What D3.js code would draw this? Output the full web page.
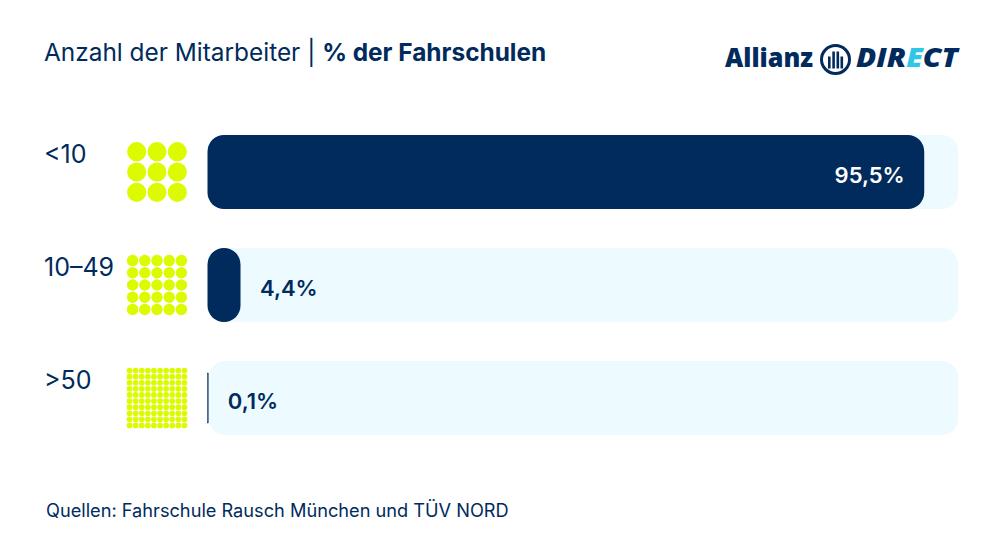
<!DOCTYPE html>
<html>
<head>
<meta charset="utf-8">
<script src="https://cdn.jsdelivr.net/npm/d3@7"></script>
<style>
  html, body { margin: 0; padding: 0; background: #fff; }
  svg { display: block; }
  text { font-family: Inter, Lato, sans-serif; }
</style>
</head>
<body>
<div id="chart"></div>
<script>
const categories = ["<10", "10–49", ">50"];
const shares = [95.5, 4.4, 0.1];
const shareLabels = ["95,5%", "4,4%", "0,1%"];
const dotGrid = [3, 5, 10];

const width = 1000, height = 560;
const navy = "#002b5c", track = "#edfaff", lime = "#dcfa00", cyan = "#2fc6e8";

const svg = d3.select("#chart").append("svg")
    .attr("width", width)
    .attr("height", height);

// title
const title = svg.append("text")
    .attr("x", 44).attr("y", 61)
    .attr("fill", navy)
    .style("font-size", "24.4px");
title.append("tspan").text("Anzahl der Mitarbeiter | ");
title.append("tspan").attr("font-weight", 700).text("% der Fahrschulen");

// scales
const x = d3.scaleLinear().domain([0, 100]).range([207.5, 958]);
const y = d3.scaleBand().domain(categories).range([135, 435]).paddingInner(39 / 113);
const barH = y.bandwidth();

const rows = svg.selectAll("g.row")
    .data(categories.map((c, i) => ({ cat: c, share: shares[i], label: shareLabels[i], n: dotGrid[i] })))
    .join("g")
    .attr("class", "row")
    .attr("transform", d => `translate(0,${y(d.cat)})`);

// background track
rows.append("rect")
    .attr("x", d => d.share < 1 ? x(0) + 1.5 : x(0))
    .attr("width", d => d.share < 1 ? x(100) - x(0) - 1.5 : x(100) - x(0))
    .attr("height", barH)
    .attr("rx", 16)
    .attr("fill", track);

// value bar, the tiny one is only a thin stroke
rows.append("rect")
    .attr("x", x(0))
    .attr("y", d => d.share < 1 ? 12 : 0)
    .attr("width", d => x(d.share) - x(0))
    .attr("height", d => d.share < 1 ? barH - 24 : barH)
    .attr("rx", d => d.share < 1 ? 0 : 16.5)
    .attr("fill", navy)
    .attr("stroke", d => d.share < 1 ? navy : "none")
    .attr("stroke-width", 0.4);

// category labels
rows.append("text")
    .attr("x", 44).attr("y", 27.5)
    .attr("fill", navy)
    .style("font-size", "25px")
    .text(d => d.cat);

// value labels
rows.append("text")
    .attr("x", d => d.share > 50 ? x(d.share) - 19.5 : x(d.share) + 19.5)
    .attr("y", 48)
    .attr("text-anchor", d => d.share > 50 ? "end" : "start")
    .attr("fill", d => d.share > 50 ? "#fff" : navy)
    .attr("font-weight", 600)
    .style("font-size", "22px")
    .text(d => d.label);

// dot squares
const dotX = d3.scaleBand().range([126.5, 187.5]);
rows.each(function (d) {
    const idx = d3.range(d.n);
    const band = dotX.copy().domain(idx);
    const cells = d3.cross(idx, idx);
    d3.select(this).append("g")
        .attr("transform", `translate(0,${barH / 2 - 30.5})`)
        .selectAll("circle")
        .data(cells)
        .join("circle")
        .attr("cx", c => band(c[0]) + band.bandwidth() / 2)
        .attr("cy", c => band(c[1]) - 126.5 + band.bandwidth() / 2)
        .attr("r", band.bandwidth() * 0.47)
        .attr("fill", lime);
});

// footer
svg.append("text")
    .attr("x", 46).attr("y", 517)
    .attr("fill", navy)
    .style("font-size", "18.2px")
    .text("Quellen: Fahrschule Rausch München und TÜV NORD");

// logo
const logo = svg.append("g");
logo.append("text")
    .attr("x", 725).attr("y", 67)
    .attr("textLength", 88)
    .attr("lengthAdjust", "spacingAndGlyphs")
    .attr("fill", navy)
    .attr("font-weight", 800)
    .style("font-size", "27px")
    .style("font-family", "'Open Sans', sans-serif")
    .text("Allianz");
const mark = logo.append("g").attr("transform", "translate(835.5,59.5)");
mark.append("circle").attr("r", 14).attr("fill", "none").attr("stroke", navy).attr("stroke-width", 3);
mark.selectAll("rect")
    .data([[-7.5, -3, 2.6, 12], [-3.2, -8, 2.6, 17], [1, -8, 2.6, 17], [5, -3, 2.6, 12]])
    .join("rect")
    .attr("x", d => d[0]).attr("y", d => d[1])
    .attr("width", d => d[2]).attr("height", d => d[3])
    .attr("fill", navy);
const direct = logo.append("text")
    .attr("x", 856).attr("y", 67)
    .attr("textLength", 102)
    .attr("lengthAdjust", "spacingAndGlyphs")
    .attr("fill", navy)
    .attr("font-weight", 800)
    .attr("font-style", "italic")
    .style("font-size", "27px")
    .style("font-family", "'Open Sans', sans-serif");
direct.append("tspan").text("DIR");
direct.append("tspan").attr("fill", cyan).text("E");
direct.append("tspan").text("CT");
</script>
</body>
</html>
